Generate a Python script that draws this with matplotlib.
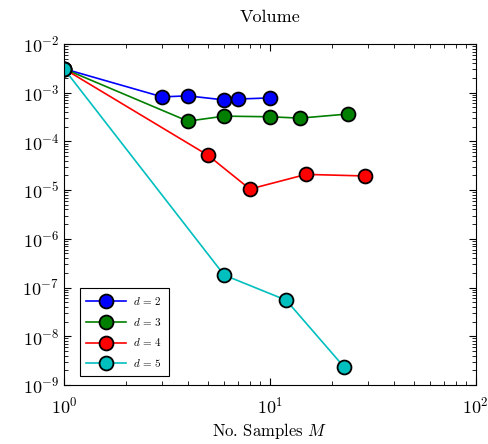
import matplotlib
matplotlib.use("Agg")
import matplotlib.pyplot as plt

plt.rcParams['font.family'] = 'serif'
plt.rcParams['font.serif'] = ['cmr10', 'DejaVu Serif']
plt.rcParams['mathtext.fontset'] = 'cm'
plt.rcParams['axes.formatter.use_mathtext'] = True
plt.rcParams['axes.unicode_minus'] = False

labels = ['$d\\,=\\,2$', '$d\\,=\\,3$', '$d\\,=\\,4$', '$d\\,=\\,5$']
colors = ['#0000ff', '#007f00', '#ff0000', '#00bfbf']
x_d2 = [1, 3, 4, 6, 7, 10]
y_d2 = [3.1e-3, 8.2e-4, 8.6e-4, 7.1e-4, 7.4e-4, 7.8e-4]
x_d3 = [1, 4, 6, 10, 14, 24]
y_d3 = [3.1e-3, 2.6e-4, 3.3e-4, 3.2e-4, 3.0e-4, 3.65e-4]
x_d4 = [1, 5, 8, 15, 29]
y_d4 = [3.1e-3, 5.2e-5, 1.05e-5, 2.1e-5, 1.95e-5]
x_d5 = [1, 6, 12, 23]
y_d5 = [3.1e-3, 1.8e-7, 5.5e-8, 2.3e-9]

fig = plt.figure(figsize=(4.88, 4.44), dpi=100)
ax = fig.add_axes([0.131, 0.133, 0.844, 0.768])

for xs, ys, c, lab in zip([x_d2, x_d3, x_d4, x_d5], [y_d2, y_d3, y_d4, y_d5], colors, labels):
    ax.plot(xs, ys, '-o', color=c, lw=1.2, markersize=10, markerfacecolor=c,
            markeredgecolor='black', markeredgewidth=1.3, label=lab)

ax.set_xscale('log')
ax.set_yscale('log')
ax.set_xlim(1, 100)
ax.set_ylim(1e-9, 1e-2)
ax.tick_params(which='both', direction='in', top=True, right=True, labelsize=13)
ax.tick_params(axis='x', which='major', pad=8)
ax.tick_params(which='major', length=5)
ax.tick_params(which='minor', length=3)
ax.set_title('Volume', fontsize=13, pad=16)
ax.set_xlabel('No. Samples $M$', fontsize=12, labelpad=3)
leg = ax.legend(loc='lower left', fontsize=8, fancybox=False, edgecolor='black',
                framealpha=1, handlelength=3.6, borderpad=0.6, labelspacing=0.8,
                handletextpad=0.6, bbox_to_anchor=(0.025, 0.01))
leg.get_frame().set_linewidth(0.8)
fig.savefig('out.png', dpi=100)
